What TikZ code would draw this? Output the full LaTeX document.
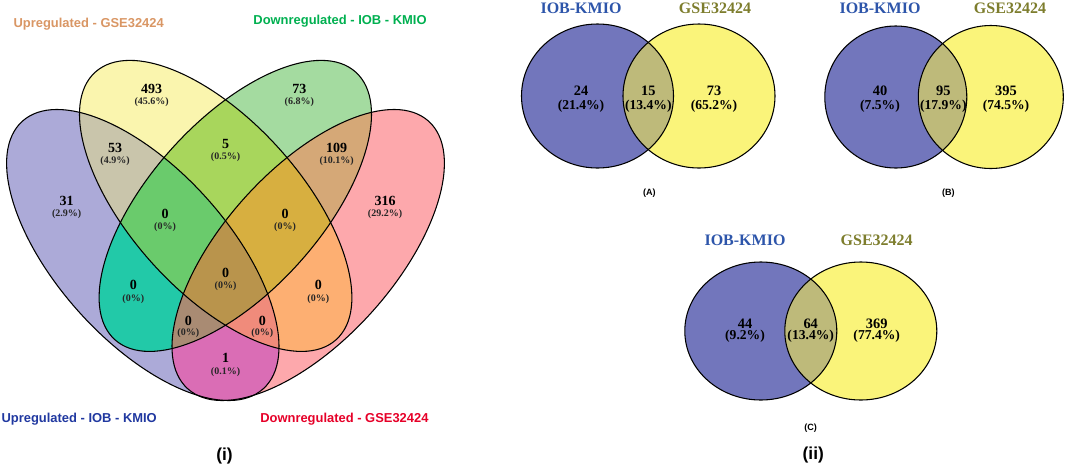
\documentclass[tikz,border=0pt]{standalone}
\usepackage{fontspec}
\setmainfont{Liberation Serif}
\newfontfamily\sansf{Liberation Sans}
\definecolor{cP}{RGB}{172,170,216}
\definecolor{cY}{RGB}{250,245,174}
\definecolor{cG}{RGB}{164,219,160}
\definecolor{cR}{RGB}{253,168,172}
\definecolor{cPY}{RGB}{201,197,171}
\definecolor{cPG}{RGB}{34,201,168}
\definecolor{cPR}{RGB}{218,109,181}
\definecolor{cYG}{RGB}{168,214,92}
\definecolor{cYR}{RGB}{253,175,114}
\definecolor{cGR}{RGB}{213,168,119}
\definecolor{cPYG}{RGB}{106,203,108}
\definecolor{cPYR}{RGB}{240,139,123}
\definecolor{cPGR}{RGB}{169,139,115}
\definecolor{cYGR}{RGB}{215,175,64}
\definecolor{cPYGR}{RGB}{185,148,76}
\definecolor{cBlue}{RGB}{114,118,188}
\definecolor{cYel}{RGB}{250,244,122}
\definecolor{cInt}{RGB}{190,186,122}
\definecolor{tUpG}{RGB}{217,150,100}
\definecolor{tDnI}{RGB}{0,176,80}
\definecolor{tUpI}{RGB}{32,56,160}
\definecolor{tDnG}{RGB}{230,0,40}
\definecolor{tIOB}{RGB}{45,85,170}
\definecolor{tGSE}{RGB}{125,125,45}
\tikzset{
  vline/.style={draw=black, line width=0.8pt},
  num/.style={font=\bfseries\fontsize{10.5}{12}\selectfont, inner sep=0pt},
  pct/.style={font=\bfseries\fontsize{7.5}{9}\selectfont, inner sep=0pt, text=black!85},
  bnum/.style={font=\bfseries\fontsize{10.8}{12}\selectfont, inner sep=0pt},
  bpct/.style={font=\bfseries\fontsize{10.2}{12}\selectfont, inner sep=0pt},
  setlab/.style={font=\sansf\bfseries\fontsize{9.7}{11}\selectfont, inner sep=0pt},
  toplab/.style={font=\bfseries\fontsize{12}{14}\selectfont, inner sep=0pt},
  panlab/.style={font=\sansf\bfseries\fontsize{6.8}{8}\selectfont, inner sep=0pt},
  biglab/.style={font=\sansf\bfseries\fontsize{13}{15}\selectfont, inner sep=0pt},
  eP/.style={shift={(142.8,255)},rotate=-48},
  eY/.style={shift={(215.7,205.9)},rotate=-48},
  eG/.style={shift={(235.3,205.9)},rotate=48},
  eR/.style={shift={(308.2,255)},rotate=48},
}
\newcommand\clipP{\clip[eP] (0,0) ellipse [x radius=180, y radius=85.5];}
\newcommand\clipY{\clip[eY] (0,0) ellipse [x radius=180, y radius=85.5];}
\newcommand\clipG{\clip[eG] (0,0) ellipse [x radius=180, y radius=85.5];}
\newcommand\clipR{\clip[eR] (0,0) ellipse [x radius=180, y radius=85.5];}
\newcommand\reg[2]{\begin{scope}#1\fill[#2] (-10,-10) rectangle (470,430);\end{scope}}
\begin{document}
\begin{tikzpicture}[x=0.75pt,y=-0.75pt]
\path[use as bounding box] (0,0) rectangle (1065,465);
% ---------- panel (i): four-set Venn ----------
\reg{\clipP}{cP}
\reg{\clipY}{cY}
\reg{\clipG}{cG}
\reg{\clipR}{cR}
\reg{\clipP\clipY}{cPY}
\reg{\clipP\clipG}{cPG}
\reg{\clipP\clipR}{cPR}
\reg{\clipY\clipG}{cYG}
\reg{\clipY\clipR}{cYR}
\reg{\clipG\clipR}{cGR}
\reg{\clipP\clipY\clipG}{cPYG}
\reg{\clipP\clipY\clipR}{cPYR}
\reg{\clipP\clipG\clipR}{cPGR}
\reg{\clipY\clipG\clipR}{cYGR}
\reg{\clipP\clipY\clipG\clipR}{cPYGR}
\draw[vline, eP] (0,0) ellipse [x radius=180, y radius=85.5];
\draw[vline, eY] (0,0) ellipse [x radius=180, y radius=85.5];
\draw[vline, eG] (0,0) ellipse [x radius=180, y radius=85.5];
\draw[vline, eR] (0,0) ellipse [x radius=180, y radius=85.5];

\node[num] (n493) at (151.7,89.3) {493};   \node[pct] (p493) at (151.7,102.3) {(45.6\%)};
\node[num] (n73)  at (299.3,89.3) {73};    \node[pct] (p73)  at (299.3,102.3) {(6.8\%)};
\node[num] (n53)  at (115,148.3) {53};     \node[pct] (p53)  at (115,161) {(4.9\%)};
\node[num] (n5)   at (225.5,144) {5};      \node[pct] (p5)   at (225.5,156.7) {(0.5\%)};
\node[num] (n109) at (336.7,148.3) {109};  \node[pct] (p109) at (336.7,161) {(10.1\%)};
\node[num] (n31)  at (66.7,200.7) {31};    \node[pct] (p31)  at (66.7,214) {(2.9\%)};
\node[num] (n0a)  at (165,214) {0};        \node[pct] (p0a)  at (165,226.7) {(0\%)};
\node[num] (n0b)  at (285,214) {0};        \node[pct] (p0b)  at (285,226.7) {(0\%)};
\node[num] (n316) at (385,200.7) {316};    \node[pct] (p316) at (385,214) {(29.2\%)};
\node[num] (n0c)  at (225.5,273.3) {0};    \node[pct] (p0c)  at (225.5,286) {(0\%)};
\node[num] (n0d)  at (133.3,285) {0};      \node[pct] (p0d)  at (133.3,299) {(0\%)};
\node[num] (n0e)  at (318.3,285) {0};      \node[pct] (p0e)  at (318.3,299) {(0\%)};
\node[num] (n0f)  at (188.3,320.7) {0};    \node[pct] (p0f)  at (188.3,333.3) {(0\%)};
\node[num] (n0g)  at (262.3,320.7) {0};    \node[pct] (p0g)  at (262.3,333.3) {(0\%)};
\node[num] (n1)   at (225.5,358.3) {1};    \node[pct] (p1)   at (225.5,371.7) {(0.1\%)};

\node[setlab, text=tUpG] (lUpG) at (88.7,24) {Upregulated - GSE32424};
\node[setlab, text=tDnI] (lDnI) at (340,20.7) {Downregulated - IOB - KMIO};
\node[setlab, text=tUpI] (lUpI) at (79.2,418.7) {Upregulated - IOB - KMIO};
\node[setlab, text=tDnG] (lDnG) at (344.4,418.7) {Downregulated - GSE32424};
\node[biglab] (li) at (224.5,456.5) {(i)};

% ---------- panel (ii) A ----------
\fill[cBlue] (597.5,96) ellipse [x radius=76, y radius=72];
\fill[cYel] (699,96) ellipse [x radius=76, y radius=72];
\begin{scope}
  \clip (597.5,96) ellipse [x radius=76, y radius=72];
  \fill[cInt] (699,96) ellipse [x radius=76, y radius=72];
\end{scope}
\draw[vline] (597.5,96) ellipse [x radius=76, y radius=72];
\draw[vline] (699,96) ellipse [x radius=76, y radius=72];
\node[toplab, text=tIOB] (aIOB) at (581,8) {IOB-KMIO};
\node[toplab, text=tGSE] (aGSE) at (715,8) {GSE32424};
\node[bnum] (a24) at (581,91) {24};     \node[bpct] (ap24) at (581,106) {(21.4\%)};
\node[bnum] (a15) at (648.3,91) {15};   \node[bpct] (ap15) at (648.3,106) {(13.4\%)};
\node[bnum] (a73) at (714,91) {73};     \node[bpct] (ap73) at (714,106) {(65.2\%)};
\node[panlab] (lA) at (649.3,192.7) {(A)};

% ---------- panel (ii) B ----------
\fill[cBlue] (895.8,97) ellipse [x radius=71, y radius=71];
\fill[cYel] (990.8,97) ellipse [x radius=72.5, y radius=71.5];
\begin{scope}
  \clip (895.8,97) ellipse [x radius=71, y radius=71];
  \fill[cInt] (990.8,97) ellipse [x radius=72.5, y radius=71.5];
\end{scope}
\draw[vline] (895.8,97) ellipse [x radius=71, y radius=71];
\draw[vline] (990.8,97) ellipse [x radius=72.5, y radius=71.5];
\node[toplab, text=tIOB] (bIOB) at (880,8) {IOB-KMIO};
\node[toplab, text=tGSE] (bGSE) at (1010,8) {GSE32424};
\node[bnum] (b40) at (880,91) {40};       \node[bpct] (bp40) at (880,106) {(7.5\%)};
\node[bnum] (b95) at (943.3,91) {95};     \node[bpct] (bp95) at (943.3,106) {(17.9\%)};
\node[bnum] (b395) at (1006,91) {395};    \node[bpct] (bp395) at (1006,106) {(74.5\%)};
\node[panlab] (lB) at (948.3,193.3) {(B)};

% ---------- panel (ii) C ----------
\fill[cBlue] (760.8,331) ellipse [x radius=76, y radius=69];
\fill[cYel] (860.8,331) ellipse [x radius=76, y radius=69];
\begin{scope}
  \clip (760.8,331) ellipse [x radius=76, y radius=69];
  \fill[cInt] (860.8,331) ellipse [x radius=76, y radius=69];
\end{scope}
\draw[vline] (760.8,331) ellipse [x radius=76, y radius=69];
\draw[vline] (860.8,331) ellipse [x radius=76, y radius=69];
\node[toplab, text=tIOB] (cIOB) at (745,240) {IOB-KMIO};
\node[toplab, text=tGSE] (cGSE) at (876.7,240) {GSE32424};
\node[bnum] (c44) at (745,323.3) {44};      \node[bpct] (cp44) at (745,336.5) {(9.2\%)};
\node[bnum] (c64) at (810.7,323.3) {64};    \node[bpct] (cp64) at (810.7,336.5) {(13.4\%)};
\node[bnum] (c369) at (876.7,323.3) {369};  \node[bpct] (cp369) at (876.7,336.5) {(77.4\%)};
\node[panlab] (lC) at (810.7,428.3) {(C)};
\node[biglab] (lii) at (813.3,455.5) {(ii)};
\end{tikzpicture}
\end{document}
